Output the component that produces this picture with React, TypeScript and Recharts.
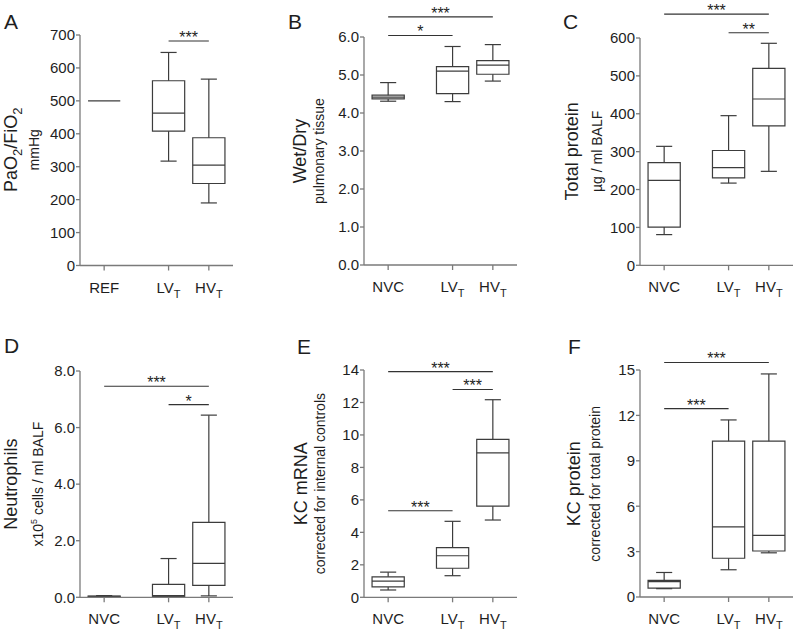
import React from 'react';
import { ComposedChart, XAxis, YAxis, ReferenceArea, ReferenceLine, ReferenceDot } from 'recharts';

const FONT = '"Liberation Sans", Arial, Helvetica, sans-serif';
const AXIS = '#7a7a7a';
const INK = '#3c3c3c';
const TEXT = '#1e1e1e';

// group positions on the x scale (GraphPad leaves a gap after the first group)
const groupX = [0.6, 2.2, 3.2];
const refGroups = ['REF', 'LV', 'HV'];
const nvcGroups = ['NVC', 'LV', 'HV'];
const groupSub = ['', 'T', 'T'];

// box stats per group: [min, q1, median, q3, max]
const paoStats = [[500, 500, 500, 500, 500], [317, 408, 463, 561, 647], [190, 249, 305, 388, 566]];
const wetDryStats = [[4.31, 4.37, 4.42, 4.47, 4.8], [4.3, 4.51, 5.1, 5.22, 5.75], [4.84, 5.02, 5.26, 5.38, 5.8]];
const proteinStats = [[81, 101, 224, 271, 314], [217, 231, 258, 303, 395], [248, 368, 439, 520, 586]];
const neutroStats = [[0.01, 0.02, 0.03, 0.04, 0.06], [0.02, 0.03, 0.06, 0.46, 1.37], [0.05, 0.42, 1.2, 2.65, 6.44]];
const kcMrnaStats = [[0.45, 0.64, 1.0, 1.26, 1.55], [1.33, 1.79, 2.56, 3.06, 4.68], [4.76, 5.61, 8.9, 9.73, 12.17]];
const kcProtStats = [[0.55, 0.58, 1.02, 1.1, 1.62], [1.8, 2.56, 4.63, 10.3, 11.7], [2.92, 3.04, 4.07, 10.3, 14.74]];

// significance bars: [from group, to group, level, stars]
const paoSig: [number, number, number, string][] = [[1, 2, 682, '***']];
const wetDrySig: [number, number, number, string][] = [[0, 2, 6.53, '***'], [0, 1, 6.04, '*']];
const proteinSig: [number, number, number, string][] = [[0, 2, 663, '***'], [1, 2, 614, '**']];
const neutroSig: [number, number, number, string][] = [[0, 2, 7.46, '***'], [1, 2, 6.81, '*']];
const kcMrnaSig: [number, number, number, string][] = [[0, 2, 13.9, '***'], [1, 2, 12.8, '***'], [0, 1, 5.33, '***']];
const kcProtSig: [number, number, number, string][] = [[0, 2, 15.5, '***'], [0, 1, 12.45, '***']];

const paoTicks = [0, 100, 200, 300, 400, 500, 600, 700];
const wetDryTicks = [0, 1, 2, 3, 4, 5, 6];
const proteinTicks = [0, 100, 200, 300, 400, 500, 600];
const neutroTicks = [0, 2, 4, 6, 8];
const kcMrnaTicks = [0, 2, 4, 6, 8, 10, 12, 14];
const kcProtTicks = [0, 3, 6, 9, 12, 15];

const HALF = 0.4; // half box width in x units
const CAP = 0.2;

const GroupTick = (props: any) => {
  const { x, y, payload, names } = props;
  let i = 0;
  groupX.forEach((g, k) => { if (Math.abs(g - payload.value) < 0.01) i = k; });
  return (
    <text x={x} y={y + 20} textAnchor="middle" fontSize={15} fontFamily={FONT} fill={TEXT}>
      {names[i]}
      {groupSub[i] ? <tspan fontSize={11} dy={5}>{groupSub[i]}</tspan> : null}
    </text>
  );
};

function boxElements(stats: number[][], sig: [number, number, number, string][]) {
  const els: React.ReactElement[] = [];
  stats.forEach(([mn, q1, med, q3, mx], i) => {
    const gx = groupX[i];
    const line = { stroke: INK, strokeWidth: 1.2 };
    if (q3 > q1) {
      els.push(<ReferenceArea key={`b${i}`} x1={gx - HALF} x2={gx + HALF} y1={q1} y2={q3} fill="none" fillOpacity={0} stroke={INK} strokeWidth={1.2} ifOverflow="visible" />);
    }
    els.push(<ReferenceLine key={`m${i}`} segment={[{ x: gx - HALF, y: med }, { x: gx + HALF, y: med }]} {...line} ifOverflow="visible" />);
    if (mx > q3) {
      els.push(<ReferenceLine key={`wu${i}`} segment={[{ x: gx, y: q3 }, { x: gx, y: mx }]} {...line} ifOverflow="visible" />);
      els.push(<ReferenceLine key={`cu${i}`} segment={[{ x: gx - CAP, y: mx }, { x: gx + CAP, y: mx }]} {...line} ifOverflow="visible" />);
    }
    if (q1 > mn) {
      els.push(<ReferenceLine key={`wl${i}`} segment={[{ x: gx, y: mn }, { x: gx, y: q1 }]} {...line} ifOverflow="visible" />);
      els.push(<ReferenceLine key={`cl${i}`} segment={[{ x: gx - CAP, y: mn }, { x: gx + CAP, y: mn }]} {...line} ifOverflow="visible" />);
    }
  });
  sig.forEach(([a, b, lvl, stars], k) => {
    els.push(<ReferenceLine key={`s${k}`} segment={[{ x: groupX[a], y: lvl }, { x: groupX[b], y: lvl }]} stroke="#333" strokeWidth={1.1} ifOverflow="visible" />);
    els.push(
      <ReferenceDot
        key={`st${k}`}
        x={(groupX[a] + groupX[b]) / 2}
        y={lvl}
        r={0}
        ifOverflow="visible"
        shape={(p: any) => (
          <text x={p.cx} y={p.cy + 2} textAnchor="middle" fontSize={16} fontFamily={FONT} fill={TEXT}>{stars}</text>
        )}
      />
    );
  });
  return els;
}

function BoxPanel({ axisX, top, bottom, stats, ticks, digits, names, sig }: any) {
  const h = bottom - top + 90;
  return (
    <div style={{ position: 'absolute', left: axisX - 80, top: top - 45 }}>
      <ComposedChart width={240} height={h} margin={{ top: 45, right: 7, bottom: 15, left: 40 }} data={[{ x: 0 }]}>
        <XAxis
          type="number"
          dataKey="x"
          domain={[0, 3.8]}
          ticks={groupX}
          interval={0}
          allowDataOverflow
          stroke={AXIS}
          strokeWidth={1.3}
          tickSize={5}
          tickMargin={2}
          height={30}
          tick={(p: any) => <GroupTick {...p} names={names} />}
        />
        <YAxis
          type="number"
          domain={[ticks[0], ticks[ticks.length - 1]]}
          ticks={ticks}
          interval={0}
          allowDataOverflow
          width={40}
          stroke={AXIS}
          strokeWidth={1.3}
          tickSize={4}
          tickMargin={1}
          tick={{ fill: TEXT, fontSize: 15, fontFamily: FONT }}
          tickFormatter={(v: number) => v.toFixed(digits)}
        />
        {boxElements(stats, sig)}
      </ComposedChart>
    </div>
  );
}

const panels = [
  { letter: 'A', lx: 4, ly: 29, axisX: 80, top: 34.5, bottom: 265, stats: paoStats, ticks: paoTicks, digits: 0, names: refGroups, sig: paoSig, tdx: -63, sdx: -41 },
  { letter: 'B', lx: 288, ly: 29, axisX: 364, top: 37, bottom: 265, stats: wetDryStats, ticks: wetDryTicks, digits: 1, names: nvcGroups, sig: wetDrySig, tdx: -58, sdx: -40 },
  { letter: 'C', lx: 563, ly: 29, axisX: 640, top: 37.7, bottom: 265, stats: proteinStats, ticks: proteinTicks, digits: 0, names: nvcGroups, sig: proteinSig, tdx: -62, sdx: -38 },
  { letter: 'D', lx: 4, ly: 353, axisX: 80, top: 371, bottom: 597.3, stats: neutroStats, ticks: neutroTicks, digits: 1, names: nvcGroups, sig: neutroSig, tdx: -63, sdx: -37 },
  { letter: 'E', lx: 297, ly: 354, axisX: 364, top: 370, bottom: 597.3, stats: kcMrnaStats, ticks: kcMrnaTicks, digits: 0, names: nvcGroups, sig: kcMrnaSig, tdx: -57, sdx: -39 },
  { letter: 'F', lx: 568, ly: 354, axisX: 640, top: 370.3, bottom: 597.3, stats: kcProtStats, ticks: kcProtTicks, digits: 0, names: nvcGroups, sig: kcProtSig, tdx: -60, sdx: -40 },
];

const titles: React.ReactNode[] = [
  <>PaO<tspan fontSize={13} dy={5}>2</tspan><tspan dy={-5}>/FiO</tspan><tspan fontSize={13} dy={5}>2</tspan></>,
  <>Wet/Dry</>,
  <>Total protein</>,
  <>Neutrophils</>,
  <>KC mRNA</>,
  <>KC protein</>,
];
const subtitles: React.ReactNode[] = [
  <>mmHg</>,
  <>pulmonary tissue</>,
  <>{'\u00b5g / ml BALF'}</>,
  <>x10<tspan fontSize={9} dy={-6}>5</tspan><tspan dy={6}> cells / ml BALF</tspan></>,
  <>corrected for internal controls</>,
  <>corrected for total protein</>,
];

export default function App() {
  return (
    <div style={{ position: 'absolute', left: 0, top: 0, width: 797, height: 633, background: '#fff', overflow: 'hidden' }}>
      {panels.map((p) => (
        <BoxPanel key={p.letter} {...p} />
      ))}
      <svg width={797} height={633} style={{ position: 'absolute', left: 0, top: 0, pointerEvents: 'none' }}>
        {panels.map((p, i) => {
          const cy = (p.top + p.bottom) / 2;
          const tx = p.axisX + p.tdx;
          const sx = p.axisX + p.sdx;
          return (
            <g key={p.letter} fontFamily={FONT} fill={TEXT}>
              <text x={p.lx} y={p.ly} fontSize={21}>{p.letter}</text>
              <text x={tx} y={cy} fontSize={18} textAnchor="middle" transform={`rotate(-90 ${tx} ${cy})`}>{titles[i]}</text>
              <text x={sx} y={cy} fontSize={14} textAnchor="middle" transform={`rotate(-90 ${sx} ${cy})`}>{subtitles[i]}</text>
            </g>
          );
        })}
      </svg>
    </div>
  );
}
